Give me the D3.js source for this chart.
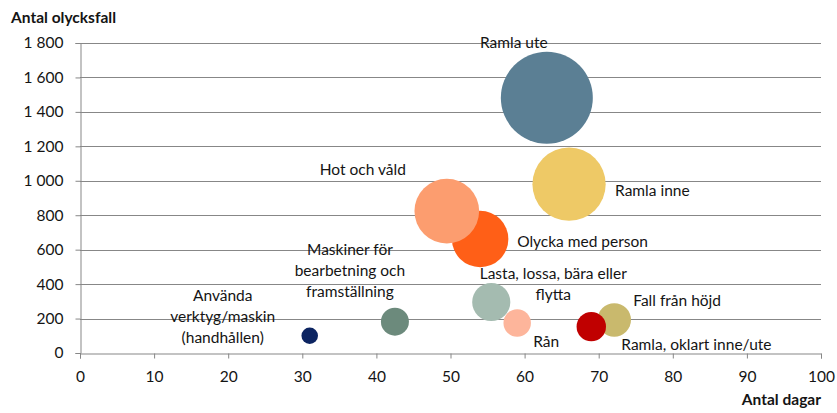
<!DOCTYPE html>
<html>
<head>
<meta charset="utf-8">
<script src="https://cdn.jsdelivr.net/npm/d3@7"></script>
<style>
  body { margin: 0; background: #fff; }
  text { font-family: Lato, "Open Sans", sans-serif; fill: #141414; }
</style>
</head>
<body>
<div id="chart"></div>
<script>
// categories and values
const categories = ["Ramla ute", "Ramla inne", "Olycka med person", "Hot och våld",
    "Lasta, lossa, bära eller flytta", "Rån", "Fall från höjd", "Ramla, oklart inne/ute",
    "Maskiner för bearbetning och framställning", "Använda verktyg/maskin (handhållen)"]
const days = [63.0, 66.0, 54.0, 49.5, 55.5, 59.0, 72.1, 69.0, 42.5, 31.0]
const accidents = [1482, 980, 662, 824, 296, 174, 192, 153, 182, 100]
const sizes = [93, 59, 35, 46, 16, 8.3, 12.3, 9.5, 8.6, 3]
const colors = ["#5b7f94", "#eec966", "#ff5f17", "#fc9d6f", "#a4bbb0", "#fdb59b",
    "#c9b96d", "#c00000", "#6c8a7c", "#0c2461"]
const xTicks = d3.range(0, 101, 10)
const yTicks = d3.range(0, 1801, 200)

// label layout: lines, anchor, offset from bubble centre (px)
const labelLayout = [
    {lines: ["Ramla ute"], anchor: "middle", dx: -33, dy: -55},
    {lines: ["Ramla inne"], anchor: "start", dx: 46, dy: 6},
    {lines: ["Olycka med person"], anchor: "start", dx: 37, dy: 3},
    {lines: ["Hot och våld"], anchor: "middle", dx: -84, dy: -42},
    {lines: ["Lasta, lossa, bära eller", "flytta"], anchor: "middle", dx: 62, dy: -28},
    {lines: ["Rån"], anchor: "middle", dx: 29, dy: 19},
    {lines: ["Fall från höjd"], anchor: "start", dx: 19, dy: -19},
    {lines: ["Ramla, oklart inne/ute"], anchor: "start", dx: 30, dy: 18},
    {lines: ["Maskiner för", "bearbetning och", "framställning"], anchor: "middle", dx: -45, dy: -72},
    {lines: ["Använda", "verktyg/maskin", "(handhållen)"], anchor: "middle", dx: -87, dy: -40}
]

const data = categories.map((c, i) => ({
    name: c, x: days[i], y: accidents[i], size: sizes[i], color: colors[i], label: labelLayout[i]
}))

const width = 837, height = 413
const margin = ({top: 43, right: 16, bottom: 60, left: 80})
const lineH = 21
const fs = 15.5

const sv = d3.formatLocale({decimal: ",", thousands: " ", grouping: [3], currency: ["", " kr"]})

const x = d3.scaleLinear().domain([0, 100]).range([margin.left, width - margin.right])
const y = d3.scaleLinear().domain([0, 1800]).range([height - margin.bottom, margin.top])
const r = d3.scaleSqrt().domain([0, d3.max(sizes)]).range([0, 46])

const svg = d3.select("#chart").append("svg")
    .attr("width", width)
    .attr("height", height)

// gridlines
svg.append("g")
    .selectAll("line")
    .data(yTicks.filter(d => d > 0))
    .join("line")
    .attr("x1", x(0))
    .attr("x2", x(100))
    .attr("y1", d => Math.round(y(d)) + 0.5)
    .attr("y2", d => Math.round(y(d)) + 0.5)
    .attr("stroke", "#878787")

var xAxis = g => g
    .attr("transform", `translate(0,${Math.round(y(0)) + 0.5})`)
    .call(d3.axisBottom(x).tickValues(xTicks).tickSize(5).tickPadding(12))
    .call(g => g.selectAll("line, path").attr("stroke", "#878787"))
    .call(g => g.selectAll("text").attr("font-size", fs).attr("fill", "#141414").style("font-family", "Lato"))

var yAxis = g => g
    .attr("transform", `translate(${Math.round(x(0)) + 0.5},0)`)
    .call(d3.axisLeft(y).tickValues(yTicks).tickSize(5).tickPadding(12).tickFormat(sv.format(",")))
    .call(g => g.selectAll("line, path").attr("stroke", "#878787"))
    .call(g => g.selectAll("text").attr("font-size", fs).attr("fill", "#141414").style("font-family", "Lato"))

svg.append("g").call(xAxis)
svg.append("g").call(yAxis)

// bubbles
svg.append("g")
    .selectAll("circle")
    .data(data)
    .join("circle")
    .attr("cx", d => x(d.x))
    .attr("cy", d => y(d.y))
    .attr("r", d => r(d.size))
    .attr("fill", d => d.color)

// labels
var labels = svg.append("g")
    .attr("font-size", fs)
    .selectAll("text")
    .data(data)
    .join("text")
    .attr("text-anchor", d => d.label.anchor)
    .attr("x", d => x(d.x) + d.label.dx)
    .attr("y", d => y(d.y) + d.label.dy)
labels.selectAll("tspan")
    .data(d => d.label.lines.map(l => ({l: l, d: d})))
    .join("tspan")
    .attr("x", o => x(o.d.x) + o.d.label.dx)
    .attr("dy", (o, i) => i === 0 ? "0.35em" : lineH)
    .text(o => o.l)

// axis titles
svg.append("text")
    .attr("x", 11)
    .attr("y", 18)
    .attr("dy", "0.35em")
    .attr("font-size", fs)
    .attr("font-weight", "bold")
    .text("Antal olycksfall")

svg.append("text")
    .attr("x", x(100))
    .attr("y", 400)
    .attr("dy", "0.35em")
    .attr("text-anchor", "end")
    .attr("font-size", fs)
    .attr("font-weight", "bold")
    .text("Antal dagar")
</script>
</body>
</html>
